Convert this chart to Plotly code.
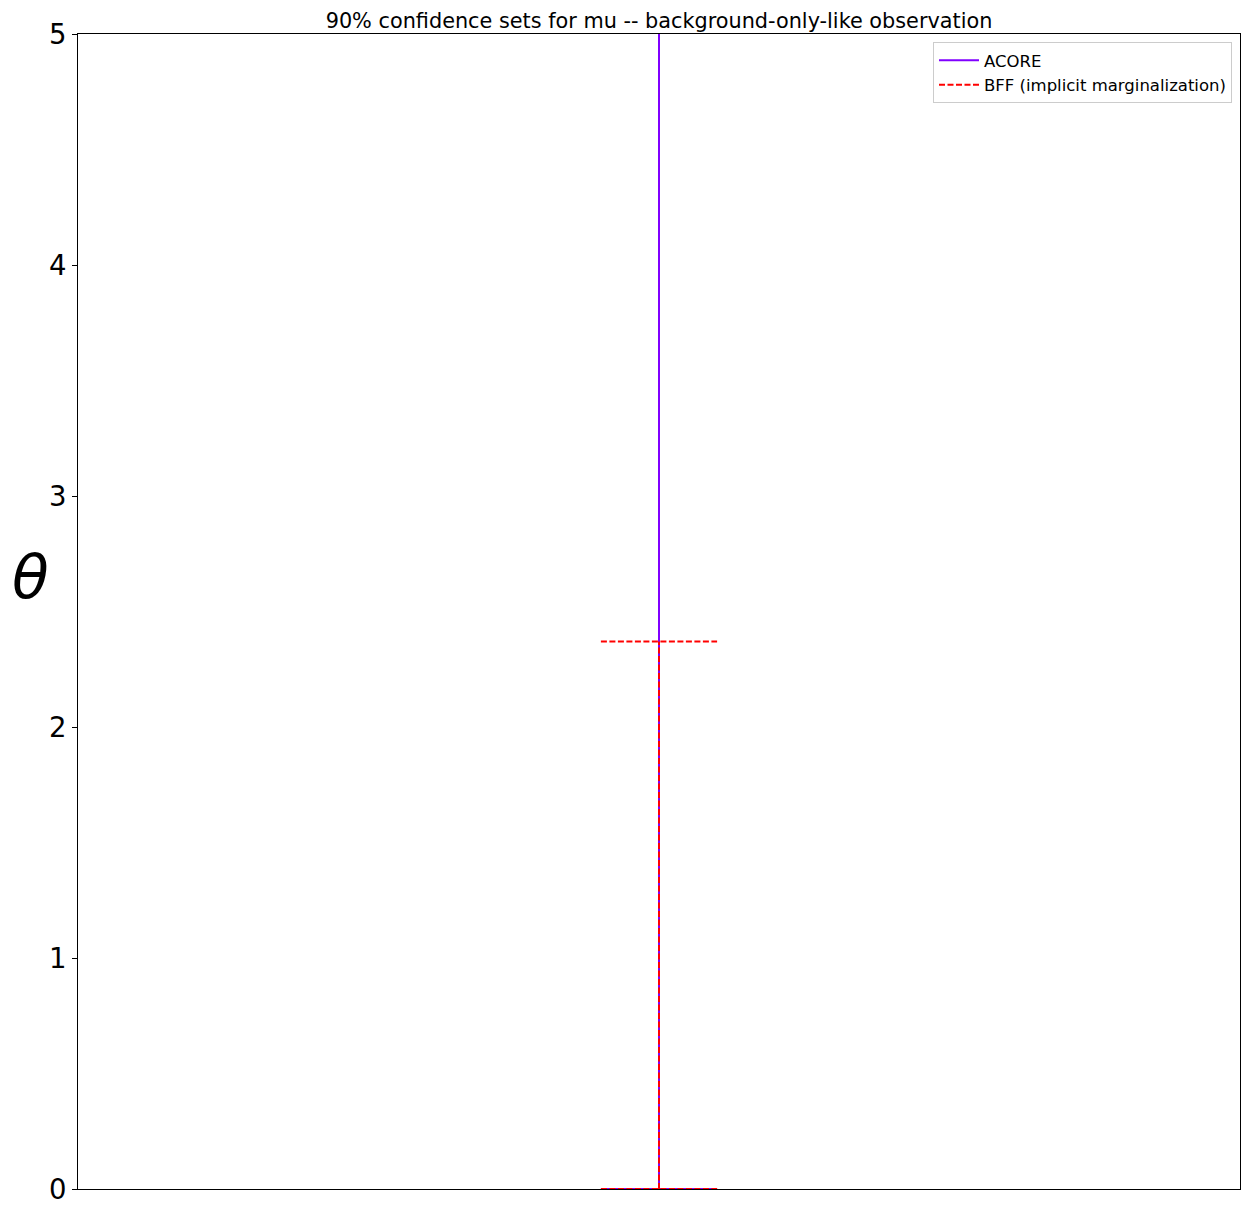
import plotly.graph_objects as go

# confidence intervals for mu (lower, upper)
acore_interval = [0.0, 6.0]
bff_interval = [0.0, 2.37]
x_obs = 0.0
cap_half = 0.1

fig = go.Figure()


def interval_path(lo, hi):
    xs = [x_obs, x_obs, None, x_obs - cap_half, x_obs + cap_half, None,
          x_obs - cap_half, x_obs + cap_half]
    ys = [lo, hi, None, lo, lo, None, hi, hi]
    return xs, ys


xs, ys = interval_path(*acore_interval)
fig.add_trace(go.Scatter(
    x=xs, y=ys, mode="lines", name="ACORE",
    line=dict(color="#8000ff", width=2),
))

xs, ys = interval_path(*bff_interval)
fig.add_trace(go.Scatter(
    x=xs, y=ys, mode="lines", name="BFF (implicit marginalization)",
    line=dict(color="#ff0000", width=2, dash="6px,2.5px"),
))

# page body adds an 8px margin, so the figure is sized to fit inside it
fig.update_layout(
    width=1234, height=1200,
    margin=dict(l=70, r=2, t=26, b=19),
    plot_bgcolor="white", paper_bgcolor="white",
    font=dict(family="DejaVu Sans", color="black"),
    title=dict(text="90% confidence sets for mu -- background-only-like observation",
               x=(70 + 1232) / 2 / 1234, xanchor="center", y=1 - 12.5 / 1200, yanchor="middle",
               font=dict(size=20.8)),
    showlegend=True,
    legend=dict(x=1 - 8 / 1162, y=1 - 8 / 1155, xanchor="right", yanchor="top",
                bgcolor="rgba(255,255,255,0.8)", bordercolor="#cccccc", borderwidth=1,
                font=dict(size=16.5), itemwidth=40),
)

fig.update_xaxes(range=[-1, 1], showticklabels=False, ticks="", showgrid=False,
                 zeroline=False, showline=True, linecolor="black", linewidth=1, mirror=True)
fig.update_yaxes(range=[0, 5], tickvals=[0, 1, 2, 3, 4, 5], ticks="outside", ticklen=5,
                 tickcolor="black", tickfont=dict(size=27.5), showgrid=False, zeroline=False,
                 showline=True, linecolor="black", linewidth=1, mirror=True)

fig.add_annotation(text="<i>θ</i>", xref="paper", yref="paper", x=-0.0413, y=0.53,
                   showarrow=False, font=dict(size=60, family="DejaVu Sans"),
                   xanchor="center", yanchor="middle")

fig.write_html("out.html")
